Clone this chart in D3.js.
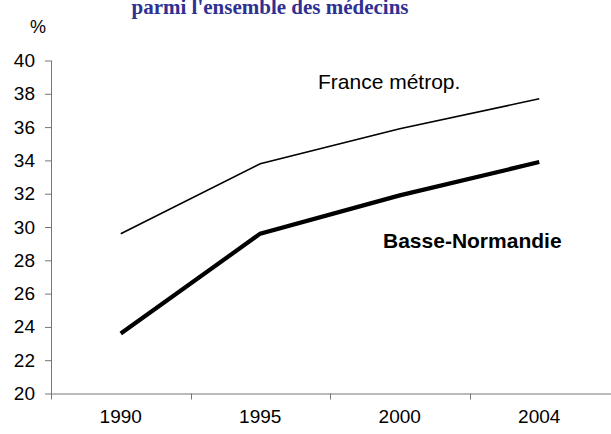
<!DOCTYPE html>
<html>
<head>
<meta charset="utf-8">
<script src="https://cdn.jsdelivr.net/npm/d3@7"></script>
<style>
  body { margin: 0; background: #fff; }
  svg { display: block; }
  .axis path, .axis line { stroke: #767676; }
  .axis text { font-family: "Liberation Sans", Arial, sans-serif; font-size: 19px; fill: #000; }
</style>
</head>
<body>
<div id="chart"></div>
<script>
// data
const years = ["1990", "1995", "2000", "2004"];
const franceMetrop = [29.6, 33.8, 35.9, 37.7];
const basseNormandie = [23.6, 29.6, 31.9, 33.9];
const yTicks = [20, 22, 24, 26, 28, 30, 32, 34, 36, 38, 40];

const width = 611, height = 434;
const margin = {left: 51, right: 609, top: 60.5, bottom: 393.5};

const svg = d3.select("#chart").append("svg")
    .attr("width", width)
    .attr("height", height);

// scales
let x = d3.scaleBand().domain(years).range([margin.left, margin.right]).padding(0);
let y = d3.scaleLinear().domain([20, 40]).range([margin.bottom, margin.top]);

// title (cut off at the top like the original)
svg.append("text")
    .attr("x", 270)
    .attr("y", 14)
    .attr("text-anchor", "middle")
    .style("font-family", "'Liberation Serif', 'Times New Roman', serif")
    .style("font-weight", "bold")
    .style("font-size", "21px")
    .style("fill", "#2E3192")
    .text("parmi l'ensemble des médecins");

// unit label
svg.append("text")
    .attr("x", 38)
    .attr("y", 33)
    .attr("text-anchor", "middle")
    .style("font-family", "'Liberation Sans', Arial, sans-serif")
    .style("font-size", "18px")
    .text("%");

// Y axis
svg.append("g")
    .attr("class", "axis")
    .attr("transform", "translate(" + margin.left + ",0)")
    .call(d3.axisLeft(y).tickValues(yTicks).tickSize(6).tickSizeOuter(0).tickPadding(10))
    .call(g => g.select(".domain").attr("d", "M0.5," + margin.top + "V" + (margin.bottom + 6)));

// X axis: labels centred in each category, tick marks on category boundaries
let xAxis = svg.append("g")
    .attr("class", "axis")
    .attr("transform", "translate(0," + margin.bottom + ")")
    .call(d3.axisBottom(x).tickSize(0).tickPadding(16))
    .call(g => g.select(".domain").attr("d", "M" + margin.left + ",0.5H" + width));

xAxis.selectAll(".bound")
    .data(years.slice(1))
    .enter().append("line")
    .attr("class", "bound")
    .attr("x1", d => Math.round(x(d)) + 0.5)
    .attr("x2", d => Math.round(x(d)) + 0.5)
    .attr("y1", 0)
    .attr("y2", 6)
    .attr("stroke", "#767676");

// lines
let line = d3.line()
    .x((d, i) => x(years[i]) + x.bandwidth() / 2)
    .y(d => y(d));

svg.append("path")
    .datum(franceMetrop)
    .attr("fill", "none")
    .attr("stroke", "#000")
    .attr("stroke-width", 1.6)
    .attr("d", line);

svg.append("path")
    .datum(basseNormandie)
    .attr("fill", "none")
    .attr("stroke", "#000")
    .attr("stroke-width", 4.2)
    .attr("d", line);

// series labels
svg.append("text")
    .attr("x", 318)
    .attr("y", 89)
    .style("font-family", "'Liberation Sans', Arial, sans-serif")
    .style("font-size", "21px")
    .text("France métrop.");

svg.append("text")
    .attr("x", 383)
    .attr("y", 248)
    .style("font-family", "'Liberation Sans', Arial, sans-serif")
    .style("font-size", "21px")
    .style("font-weight", "bold")
    .text("Basse-Normandie");
</script>
</body>
</html>
